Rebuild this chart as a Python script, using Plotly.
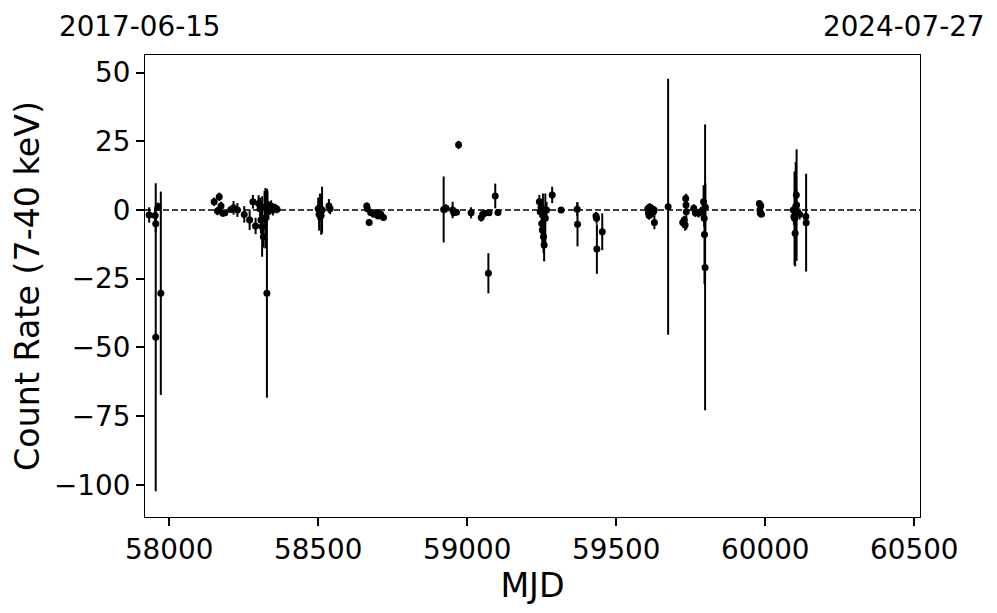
import plotly.graph_objects as go

# ---- data ----
mjd = [
    57933, 57953, 57955, 57955, 57963, 57972,
    58151, 58162, 58168, 58174, 58180, 58187, 58207, 58216, 58229,
    58252, 58270, 58281, 58290, 58300, 58305, 58308, 58312, 58316, 58320,
    58323, 58328, 58330, 58333, 58338, 58342, 58348, 58355, 58362,
    58500, 58503, 58506, 58510, 58513, 58536, 58540,
    58663, 58665, 58671, 58676, 58687, 58699, 58701, 58710, 58719,
    58921, 58929, 58951, 58955, 58971, 58964, 59013, 59047, 59052, 59058,
    59071, 59073, 59094, 59103,
    59242, 59245, 59248, 59250, 59252, 59254, 59256, 59258, 59262, 59266,
    59285, 59315, 59369, 59370, 59432, 59434, 59435, 59453,
    59606, 59608, 59610, 59612, 59614, 59616, 59620, 59624, 59627, 59628,
    59674,
    59723, 59728, 59731, 59733, 59734, 59735, 59760, 59765, 59776, 59785,
    59790, 59793, 59795, 59796, 59798, 59799,
    59980, 59982, 59983, 59985, 59987,
    60094, 60096, 60098, 60100, 60102, 60104, 60105, 60107, 60115, 60136, 60137,
]
rate = [
    -1.8, -2.0, -5.0, -46.3, 1.2, -30.3,
    3.0, -0.4, 4.8, 1.5, -1.2, -1.0, 0.2, 0.8, 0.0,
    -1.6, -3.6, 3.0, -5.8, 2.4, 0.5, -3.6, -6.0, -9.7, 1.0,
    -3.0, -30.3, 2.0, -0.5, 0.5, 1.5, 0.0, 0.8, 0.3,
    0.5, -1.5, 1.0, -2.0, 0.0, 1.5, 0.5,
    1.5, 0.5, -4.5, -0.9, -1.5, -0.9, -2.2, -1.5, -2.7,
    0.2, 0.6, 0.0, -1.0, 23.7, -0.8, -1.0, -2.7, -1.5, -1.2,
    -23.0, -1.0, 5.1, -0.9,
    3.0, -0.6, 1.0, -4.9, -7.3, -2.0, -9.7, -12.7, -3.0, 0.0,
    5.5, 0.0, 0.3, -5.2, -2.2, -3.0, -14.2, -7.9,
    0.5, -1.0, -2.0, 1.0, 0.0, -1.5, 0.5, -0.8, 0.0, -4.5,
    1.2,
    -4.5, -3.6, -5.5, 4.2, 1.8, -0.6, 0.6, -1.0, -1.2, -0.5,
    0.0, 3.0, -3.0, -8.9, -20.9, 1.0,
    2.4, 0.0, -1.1, 1.5, -1.5,
    0.0, -2.4, -3.0, -8.5, 0.5, 5.5, 1.8, -0.6, -1.5, -2.4, -4.6,
]
err = [
    2.8, 3.0, 3.0, 56.0, 1.5, 37.0,
    1.5, 1.5, 1.5, 1.5, 1.2, 1.0, 1.0, 2.5, 2.5,
    3.0, 3.7, 2.5, 3.0, 3.0, 4.0, 5.0, 11.0, 4.0, 6.0,
    11.0, 38.0, 5.0, 3.0, 2.0, 2.0, 2.0, 1.5, 1.5,
    4.0, 6.0, 5.0, 7.0, 8.5, 2.5, 2.0,
    1.2, 1.0, 1.2, 1.0, 1.0, 1.0, 1.0, 1.0, 1.0,
    12.0, 1.5, 3.0, 1.0, 1.5, 1.0, 2.0, 1.5, 1.0, 1.0,
    7.3, 1.0, 4.5, 1.0,
    2.5, 2.0, 3.0, 5.0, 6.0, 8.0, 6.0, 6.0, 9.0, 3.0,
    3.0, 1.0, 2.5, 8.0, 1.5, 2.0, 9.0, 6.7,
    1.5, 1.5, 1.5, 1.5, 2.0, 1.5, 1.5, 1.5, 1.5, 2.5,
    46.6,
    1.5, 1.5, 2.0, 1.5, 1.5, 6.5, 1.5, 1.5, 1.5, 1.5,
    2.0, 6.0, 3.0, 18.0, 52.0, 8.7,
    1.0, 1.0, 1.0, 1.0, 1.0,
    2.0, 3.0, 17.0, 12.0, 17.0, 2.0, 20.3, 2.0, 2.0, 1.5, 17.8,
]

x_ticks = [58000, 58500, 59000, 59500, 60000, 60500]
y_ticks = [50, 25, 0, -25, -50, -75, -100]
start_label = "2017-06-15"
end_label = "2024-07-27"
x_range = [57919, 60519]
y_range = [-111.7, 56.4]

FONT = "DejaVu Sans"
TICK_SIZE = 27.8
TITLE_SIZE = 33.3

fig = go.Figure()
fig.add_trace(go.Scatter(
    x=mjd, y=rate, mode="markers",
    marker=dict(color="black", size=7),
    error_y=dict(type="data", array=err, visible=True, color="black",
                 thickness=2, width=0),
    showlegend=False,
))

fig.add_hline(y=0, line=dict(color="black", width=1.5, dash="6px,3px"))

fig.update_layout(
    width=989, height=605,
    margin=dict(l=137, r=77, t=47, b=96),
    plot_bgcolor="white", paper_bgcolor="white",
    font=dict(family=FONT, color="black", size=TICK_SIZE),
    xaxis=dict(
        range=x_range, tickvals=x_ticks, ticktext=[str(v) for v in x_ticks],
        ticks="outside", ticklen=8, tickwidth=2, tickcolor="black",
        showline=True, linecolor="black", linewidth=1, mirror=True,
        showgrid=False, zeroline=False,
        title=dict(text="MJD", font=dict(size=TITLE_SIZE, family=FONT), standoff=6),
        tickfont=dict(size=TICK_SIZE, family=FONT),
    ),
    yaxis=dict(
        range=y_range, tickvals=y_ticks,
        ticktext=[("\u2212" + str(-v)) if v < 0 else str(v) for v in y_ticks],
        ticks="outside", ticklen=8, tickwidth=2, tickcolor="black",
        showline=True, linecolor="black", linewidth=1, mirror=True,
        showgrid=False, zeroline=False,
        title=dict(text="Count Rate (7-40 keV)", font=dict(size=TITLE_SIZE, family=FONT), standoff=12),
        tickfont=dict(size=TICK_SIZE, family=FONT),
    ),
    annotations=[
        dict(text=start_label, xref="paper", yref="paper", x=-0.1135, y=1.062,
             xanchor="left", yanchor="middle", showarrow=False,
             font=dict(size=TICK_SIZE, family=FONT)),
        dict(text=end_label, xref="paper", yref="paper", x=1.0865, y=1.062,
             xanchor="right", yanchor="middle", showarrow=False,
             font=dict(size=TICK_SIZE, family=FONT)),
    ],
)

fig.write_html("out.html")
